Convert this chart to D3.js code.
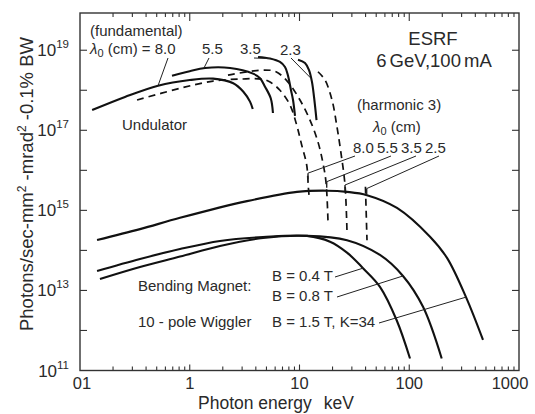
<!DOCTYPE html>
<html><head><meta charset="utf-8">
<script src="https://cdn.jsdelivr.net/npm/d3@7"></script>
<style>
html,body{margin:0;padding:0;background:#fff;}
svg text{font-family:"Liberation Sans",Arial,sans-serif;fill:#2a2a2a;}
</style></head>
<body><svg id="c" width="535" height="414"></svg>
<script>
// ---- data: [photon energy keV, brightness photons/s/mm2/mrad2/0.1%BW] ----
const und80 = [[0.129,3.2e17],[0.257,6.8e17],[0.514,1.3e18],[1.0,1.8e18],[1.63,1.95e18],[2.49,1.5e18],[3.08,9.2e17],[3.54,5.2e17],[3.75,3.4e17]];
const und55 = [[0.689,2.3e18],[1.0,3.0e18],[1.38,3.6e18],[2.33,3.6e18],[3.77,2.6e18],[4.37,2.0e18],[4.85,1.23e18],[5.47,6.3e17],[5.73,2.7e17]];
const und35 = [[4.19,6.8e18],[5.39,6.2e18],[6.64,5.1e18],[7.38,3.8e18],[7.86,2.3e18],[8.37,1.0e18],[8.73,5.7e17],[9.10,2.3e17]];
const und23 = [[9.69,5.8e18],[11.22,4.8e18],[12.21,3.2e18],[13.0,1.6e18],[13.56,6.8e17],[14.29,1.8e17]];
const harm80 = [[0.331,5.7e17],[0.815,1.12e18],[1.63,1.7e18],[2.87,1.9e18],[4.55,1.9e18],[5.39,1.6e18],[6.64,1.0e18],[8.19,4.3e17],[9.43,1.35e17],[10.47,4.3e16],[11.63,1.36e16],[12.03,3.9e15],[12.21,2.4e15]];
const harm55 = [[2.23,2.4e18],[4.65,3.2e18],[6.11,2.9e18],[7.86,1.6e18],[10.1,5.7e17],[12.46,1.8e17],[14.74,5.1e16],[16.37,1.5e16],[17.44,5.1e15],[18.19,5.1e14]];
const harm35 = [[14.74,2.9e18],[17.08,1.8e18],[19.78,5.7e17],[21.97,1.2e17],[23.88,2.7e16],[25.98,4.3e15],[27.09,2.9e14]];
const harm25 = [[39.9,3.9e15],[41.2,1.8e14]];
const bend04 = [[0.143,3.06e13],[0.352,6.1e13],[0.815,1.08e14],[1.886,1.72e14],[4.65,2.16e14],[11.7,2.3e14],[18.97,1.65e14],[27.09,8.8e13],[37.9,3.6e13],[54.1,1.23e13],[76.8,1.8e12],[101.6,2.0e11]];
const bend08 = [[0.152,1.93e13],[0.352,3.85e13],[0.815,7.0e13],[1.886,1.29e14],[4.65,2.04e14],[11.7,2.3e14],[27.09,1.8e14],[54.1,7.7e13],[87.7,2.3e13],[133.5,3.9e12],[197.6,2.0e11]];
const wiggler = [[0.143,1.82e14],[0.352,3.4e14],[0.815,6.5e14],[3.324,1.7e15],[9.49,2.9e15],[17.81,3.1e15],[27.09,2.9e15],[41.2,2.4e15],[77.3,1.15e15],[154.6,2.2e14],[220.8,6.5e13],[328.9,6.8e12],[469.9,5.8e11]];
// pointer targets on curves
const fundMarks = [[0.514,1.3e18],[1.348,3.6e18],[5.39,6.2e18],[12.7,2.0e18]];
const harmMarks = [[11.95,8.5e15],[17.7,5.2e15],[25.98,4.3e15],[40.95,3.5e15]];
const srcMarks = [[37.9,3.6e13],[87.7,2.3e13],[328.9,6.8e12]];
const xTickLabels = ["01","1","10","100","1000"];
const xTickValues = [0.1,1,10,100,1000];
const yTickExps = [11,13,15,17,19];

// ---- layout ----
const svg = d3.select("#c");
const L=80, R=519, T=13, B=370.5;
const x = d3.scaleLog().domain([0.1,1000]).range([L,R]);
const y = d3.scaleLog().domain([1e11, Math.pow(10,19.93)]).range([B,T]);
const ink = "#111";

// frame
svg.append("rect").attr("x",L).attr("y",T).attr("width",R-L).attr("height",B-T)
  .attr("fill","none").attr("stroke","#333").attr("stroke-width",1.4);

// x ticks (bottom & top, inward)
const xMinor = [];
for (let d=0.1; d<1000; d*=10) for (let k=2;k<=9;k++) xMinor.push(d*k);
const g = svg.append("g").attr("stroke","#333").attr("stroke-width",1.1);
xMinor.forEach(v=>{
  g.append("line").attr("x1",x(v)).attr("x2",x(v)).attr("y1",B).attr("y2",B-4);
  g.append("line").attr("x1",x(v)).attr("x2",x(v)).attr("y1",T).attr("y2",T+4);
});
[1,10,100].forEach(v=>{
  g.append("line").attr("x1",x(v)).attr("x2",x(v)).attr("y1",B).attr("y2",B-6);
  g.append("line").attr("x1",x(v)).attr("x2",x(v)).attr("y1",T).attr("y2",T+8);
});
// y ticks every decade, both sides inward
for (let e=12;e<=19;e++){
  const yy = y(Math.pow(10,e));
  g.append("line").attr("x1",L).attr("x2",L+7).attr("y1",yy).attr("y2",yy);
  g.append("line").attr("x1",R).attr("x2",R-7).attr("y1",yy).attr("y2",yy);
}
// x tick labels
xTickValues.forEach((v,i)=>{
  let xx = x(v); if (i===0) xx += 2; if (i===4) xx -= 9;
  svg.append("text").attr("x",xx).attr("y",389).attr("text-anchor","middle")
    .attr("font-size",16.5).text(xTickLabels[i]);
});
// y tick labels
yTickExps.forEach(e=>{
  const t = svg.append("text").attr("x",69).attr("y",y(Math.pow(10,e))+6).attr("text-anchor","end").attr("font-size",17);
  t.append("tspan").text("10");
  t.append("tspan").attr("dy",-8).attr("font-size",11.5).text(e);
});
// axis titles
const xl = svg.append("text").attr("x",198).attr("y",409).attr("font-size",17.5);
xl.append("tspan").text("Photon energy");
xl.append("tspan").attr("dx",12).text("keV");
const yl = svg.append("text").attr("transform","translate(33,184) rotate(-90)").attr("text-anchor","middle").attr("font-size",18.5);
yl.append("tspan").text("Photons/sec-mm");
yl.append("tspan").attr("dy",-7).attr("font-size",12).text("2");
yl.append("tspan").attr("dy",7).text(" -mrad");
yl.append("tspan").attr("dy",-7).attr("font-size",12).text("2");
yl.append("tspan").attr("dy",7).text(" -0.1% BW");

// curves
const line = d3.line().x(d=>x(d[0])).y(d=>y(d[1])).curve(d3.curveCatmullRom.alpha(0.5));
const solid = [und80,und55,und35,und23,bend04,bend08,wiggler];
solid.forEach(s=>svg.append("path").attr("d",line(s)).attr("fill","none").attr("stroke",ink).attr("stroke-width",2.1));
[harm80,harm55,harm35,harm25].forEach(s=>svg.append("path").attr("d",line(s)).attr("fill","none")
  .attr("stroke",ink).attr("stroke-width",1.7).attr("stroke-dasharray","7,5"));

// pointers
function pointer(from, mark, tick){
  const mx=x(mark[0]), my=y(mark[1]);
  svg.append("line").attr("x1",from[0]).attr("y1",from[1]).attr("x2",mx).attr("y2",my)
    .attr("stroke","#222").attr("stroke-width",1);
  if (tick) svg.append("line").attr("x1",mx).attr("y1",my).attr("x2",mx).attr("y2",my+6)
    .attr("stroke","#222").attr("stroke-width",1.4);
}
const fundFrom = [[168,58],[209,58],[254,58],[291,58]];
fundMarks.forEach((m,i)=>pointer(fundFrom[i],m,false));
const harmFrom = [[355,156],[391,156],[416,156],[439,156]];
harmMarks.forEach((m,i)=>pointer(harmFrom[i],m,true));
const srcFrom = [[335,277],[337,297],[379,323]];
srcMarks.forEach((m,i)=>pointer(srcFrom[i],m,false));

// annotation text
function txt(s,xx,yy,fs,anchor){return svg.append("text").attr("x",xx).attr("y",yy).attr("font-size",fs||15).attr("text-anchor",anchor||"start").text(s);}
txt("ESRF",433,45,18.5,"middle");
txt("6 GeV,100 mA",434,67,18.5,"middle").attr("word-spacing",-2);
txt("(fundamental)",90,36,15);
const l0 = svg.append("text").attr("x",90).attr("y",54).attr("font-size",15);
l0.append("tspan").attr("font-style","italic").text("λ");
l0.append("tspan").attr("dy",3).attr("font-size",11).text("0");
l0.append("tspan").attr("dy",-3).text(" (cm) = 8.0");
txt("5.5",202,54,15); txt("3.5",240,54,15); txt("2.3",280,55,15);
txt("Undulator",122,130,15);
txt("(harmonic 3)",357,110,15);
const l1 = svg.append("text").attr("x",373).attr("y",132).attr("font-size",15);
l1.append("tspan").attr("font-style","italic").text("λ");
l1.append("tspan").attr("dy",3).attr("font-size",11).text("0");
l1.append("tspan").attr("dy",-3).text(" (cm)");
txt("8.0",353,153,15); txt("5.5",377,153,15); txt("3.5",401,153,15); txt("2.5",425,153,15);
txt("Bending Magnet:",138,291,15);
txt("B = 0.4 T",272,281,15);
txt("B = 0.8 T",272,301,15);
txt("10 - pole  Wiggler",138,327,15);
txt("B = 1.5 T, K=34",272,327,15);
</script></body></html>
